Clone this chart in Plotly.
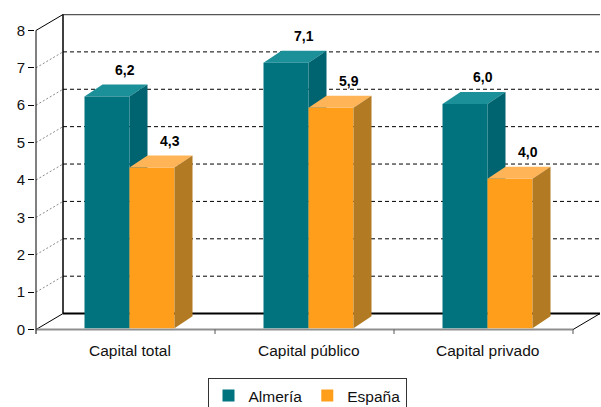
import plotly.graph_objects as go

# ---------------- data ----------------
categories = ["Capital total", "Capital público", "Capital privado"]
almeria = [6.2, 7.1, 6.0]
espana = [4.3, 5.9, 4.0]
series_names = ["Almería", "España"]
y_ticks = [0, 1, 2, 3, 4, 5, 6, 7, 8]

# ---------------- geometry / style ----------------
PX_X = 179.0          # pixels per category
PX_Y = 37.5           # pixels per unit
FX, FY = 27 / PX_X, 16 / PX_Y      # wall / floor depth
BX, BY = 18 / PX_X, 12 / PX_Y      # bar depth
W = 45 / PX_X                      # bar width
O = 4 / PX_X                       # bar shift (depth position)
BASE = 0.035
X0 = -0.5
X1 = len(categories) - 0.5
XR = X0 + FX
YMAX = max(y_ticks)
Y_TOP = 8.44
Y_LO = -0.2

TEAL, TEAL_TOP, TEAL_SIDE = "#00737F", "#1C9099", "#006370"
ORG, ORG_TOP, ORG_SIDE = "#FF9E1B", "#FFB457", "#B27A22"
FONT = "Liberation Sans, Arial, sans-serif"

idx = list(range(len(categories)))

fig = go.Figure()
fig.add_trace(go.Bar(x=idx, y=almeria, base=BASE, width=W, offset=O - W,
                     marker=dict(color=TEAL, line=dict(width=0)),
                     name=series_names[0], hoverinfo="skip"))
fig.add_trace(go.Bar(x=idx, y=espana, base=BASE, width=W, offset=O,
                     marker=dict(color=ORG, line=dict(width=0)),
                     name=series_names[1], hoverinfo="skip"))

shapes = []


def line(x0, y0, x1, y1, color="black", width=1, dash=None, layer="below"):
    d = dict(type="line", xref="x", yref="y", x0=x0, y0=y0, x1=x1, y1=y1,
             line=dict(color=color, width=width), layer=layer)
    if dash:
        d["line"]["dash"] = dash
    shapes.append(d)


def poly(pts, color, layer):
    path = "M " + " L ".join(f"{x},{y}" for x, y in pts) + " Z"
    shapes.append(dict(type="path", xref="x", yref="y", path=path,
                       fillcolor=color, line=dict(width=0), layer=layer))


# back wall gridlines and side wall dotted lines
for v in y_ticks[1:-1]:
    line(XR, v + FY, X1 + FX, v + FY, "black", 1, "4px,3px")
    line(X0, v, XR, v + FY, "#8a8a8a", 1, "2px,2px")
# walls / floor frame
line(XR, YMAX + FY, X1 + FX, YMAX + FY, "#555555", 1.5)
line(XR, FY, XR, YMAX + FY, "black", 1.5)
line(X0, YMAX, XR, YMAX + FY, "black", 1)
line(XR, FY, X1 + FX, FY, "black", 2)
line(X0, 0, XR, FY, "black", 1)
line(X1, 0, X1 + FX, FY, "black", 1)
line(X0, 0, X1, 0, "#8f8f8f", 2)
line(X0, -0.12, X0, YMAX, "black", 1)
for i in idx:
    line(i + 0.5, 0, i + 0.5, -0.12, "#555555", 1)


def bar3d(x0, x1, top, ctop, cside, layer):
    poly([(x0, top), (x1, top), (x1 + BX, top + BY), (x0 + BX, top + BY)], ctop, layer)
    poly([(x1, BASE), (x1, top), (x1 + BX, top + BY), (x1 + BX, BASE + BY)], cside, layer)


for i, v in zip(idx, almeria):
    bar3d(i + O - W, i + O, BASE + v, TEAL_TOP, TEAL_SIDE, "below")
for i, v in zip(idx, espana):
    bar3d(i + O, i + O + W, BASE + v, ORG_TOP, ORG_SIDE, "above")

# plot-area pixel geometry
L_MARGIN = 35
T_MARGIN = 330 - Y_TOP * PX_Y
PLOT_BOTTOM = 330 - Y_LO * PX_Y
PLOT_H = PLOT_BOTTOM - T_MARGIN
x_lo = X0 - (36 - L_MARGIN) / PX_X
x_hi = x_lo + (601 - L_MARGIN) / PX_X

annotations = []
for vals, off in ((almeria, -W / 2), (espana, W / 2)):
    for i, v in zip(idx, vals):
        annotations.append(dict(
            x=i + O + off + BX, y=BASE + v + BY + 15 / PX_Y, xref="x", yref="y",
            text=f"<b>{v:.1f}</b>".replace(".", ","), showarrow=False,
            font=dict(family=FONT, size=14, color="black"),
            xanchor="center", yanchor="middle"))
for i, c in zip(idx, categories):
    annotations.append(dict(
        x=i + O, y=(PLOT_BOTTOM - 351) / PLOT_H, xref="x", yref="paper", text=c,
        showarrow=False, font=dict(family=FONT, size=15.5, color="#111111"),
        xanchor="center", yanchor="middle"))

fig.update_layout(
    width=601, height=407,
    margin=dict(l=L_MARGIN, r=0, t=T_MARGIN, b=407 - PLOT_BOTTOM, autoexpand=False),
    paper_bgcolor="white", plot_bgcolor="white",
    barmode="overlay", shapes=shapes, annotations=annotations,
    font=dict(family=FONT, color="black"),
    xaxis=dict(range=[x_lo, x_hi], showgrid=False, zeroline=False,
               showticklabels=False, ticks="", showline=False, fixedrange=True),
    yaxis=dict(range=[Y_LO, Y_TOP], tickvals=y_ticks, showgrid=False, zeroline=False,
               showline=False, ticks="outside", ticklen=6, tickcolor="black",
               tickfont=dict(family=FONT, size=15, color="#111111"), fixedrange=True),
    legend=dict(orientation="h", x=307 / 601, xref="container", xanchor="center",
                y=(407 - 378) / 407, yref="container", yanchor="top",
                bordercolor="#333333", borderwidth=1, itemwidth=30,
                bgcolor="white", font=dict(family=FONT, size=15.5, color="#111111")),
    showlegend=True,
)

fig.write_html("out.html")
